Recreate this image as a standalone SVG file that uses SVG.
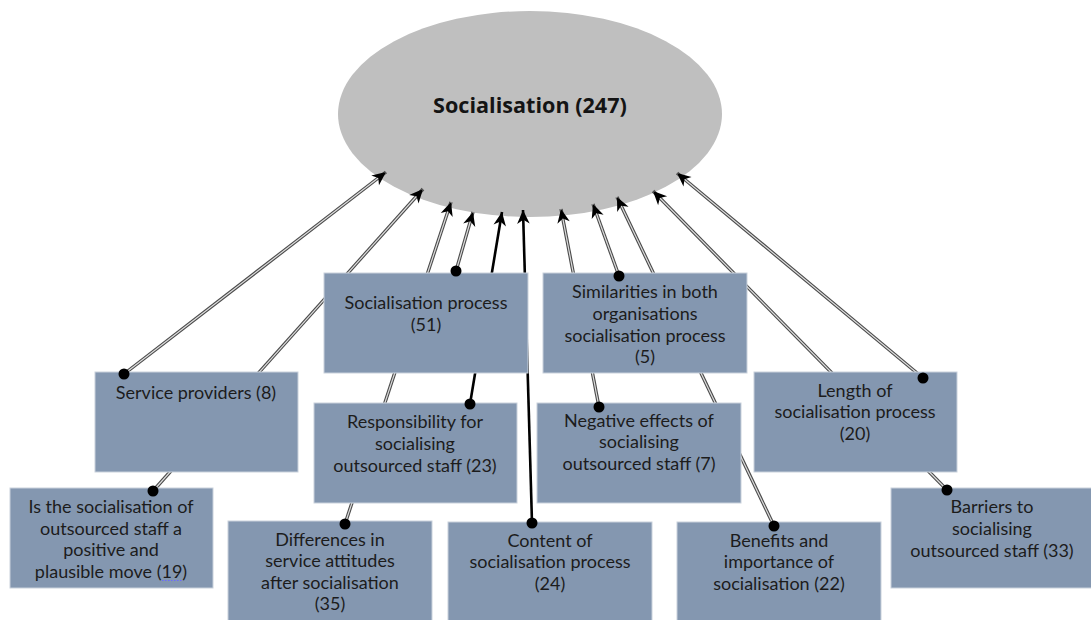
<svg xmlns="http://www.w3.org/2000/svg" xmlns:xlink="http://www.w3.org/1999/xlink" width="1091" height="620" viewBox="0 0 1091 620">
  <style>
    .box { fill: #8497b0; stroke: #c9d1dc; stroke-width: 1; }
    .label { font-family: Lato, "Liberation Sans", sans-serif; font-size: 18px; fill: #1c1c1c; text-anchor: middle; }
    .title { font-family: "Open Sans", "Liberation Sans", sans-serif; font-size: 21.6px; font-weight: bold; fill: #141414; text-anchor: middle; }
    .dbl-outer { fill: none; stroke: #4a4a4a; stroke-width: 3.4; }
    .dbl-inner { fill: none; stroke: #dedede; stroke-width: 1.2; }
    .solid { fill: none; stroke: #000; stroke-width: 2.6; }
    .heads { fill: none; stroke: none; marker-end: url(#arrow); }
    .dot { fill: #000; }
  </style>
  <defs>
    <marker id="arrow" markerUnits="userSpaceOnUse" markerWidth="16" markerHeight="16" viewBox="-13 -7 14 14" refX="0" refY="0" orient="auto">
      <path d="M0,0 L-12,-5.5 L-8.5,0 L-12,5.5 Z" fill="#000"/>
    </marker>
    <!-- connector paths: from source node to the ellipse rim -->
    <path id="c-serv" d="M124,374 L386,172"/>
    <path id="c-is" d="M153,491 L423,189"/>
    <path id="c-diff" d="M345,524 L451,202"/>
    <path id="c-proc" d="M456,271 L473,212"/>
    <path id="c-resp" d="M470,404 L502,212"/>
    <path id="c-cont" d="M532,523 L523,210"/>
    <path id="c-neg" d="M599,407 L561,209"/>
    <path id="c-sim" d="M619,276 L593,204"/>
    <path id="c-ben" d="M774,526 L617,197"/>
    <path id="c-bar" d="M947,490 L653,191"/>
    <path id="c-len" d="M923,378 L677,173"/>
  </defs>

  <rect width="1091" height="620" fill="#ffffff"/>

  <!-- central theme -->
  <g id="socialisation">
    <ellipse cx="530" cy="114" rx="192" ry="103" fill="#bfbfbf"/>
    <text class="title" x="530" y="113">Socialisation (247)</text>
  </g>

  <!-- connectors: double lines, solid lines, then arrowheads -->
  <g id="connectors">
    <g class="dbl-outer">
      <use xlink:href="#c-serv"/><use xlink:href="#c-is"/><use xlink:href="#c-diff"/>
      <use xlink:href="#c-proc"/><use xlink:href="#c-neg"/><use xlink:href="#c-sim"/>
      <use xlink:href="#c-ben"/><use xlink:href="#c-bar"/><use xlink:href="#c-len"/>
    </g>
    <g class="dbl-inner">
      <use xlink:href="#c-serv"/><use xlink:href="#c-is"/><use xlink:href="#c-diff"/>
      <use xlink:href="#c-proc"/><use xlink:href="#c-neg"/><use xlink:href="#c-sim"/>
      <use xlink:href="#c-ben"/><use xlink:href="#c-bar"/><use xlink:href="#c-len"/>
    </g>
    <g class="solid">
      <use xlink:href="#c-resp"/><use xlink:href="#c-cont"/>
    </g>
    <g class="heads">
      <use xlink:href="#c-serv"/><use xlink:href="#c-is"/><use xlink:href="#c-diff"/>
      <use xlink:href="#c-proc"/><use xlink:href="#c-resp"/><use xlink:href="#c-cont"/>
      <use xlink:href="#c-neg"/><use xlink:href="#c-sim"/><use xlink:href="#c-ben"/>
      <use xlink:href="#c-bar"/><use xlink:href="#c-len"/>
    </g>
  </g>

  <!-- category nodes -->
  <g id="socialisation-process">
    <rect class="box" x="324" y="273" width="204" height="100"/>
    <text class="label" x="426"><tspan x="426" y="309">Socialisation process</tspan><tspan x="426" y="331">(51)</tspan></text>
  </g>
  <g id="similarities">
    <rect class="box" x="543" y="273" width="204" height="100"/>
    <text class="label"><tspan x="645" y="298">Similarities in both</tspan><tspan x="645" y="320">organisations</tspan><tspan x="645" y="342">socialisation process</tspan><tspan x="645" y="363">(5)</tspan></text>
  </g>
  <g id="service-providers">
    <rect class="box" x="95" y="372" width="203" height="100"/>
    <text class="label"><tspan x="196" y="399">Service providers (8)</tspan></text>
  </g>
  <g id="length">
    <rect class="box" x="754" y="372" width="203" height="100"/>
    <text class="label"><tspan x="855" y="397">Length of</tspan><tspan x="855" y="418">socialisation process</tspan><tspan x="855" y="440">(20)</tspan></text>
  </g>
  <g id="responsibility">
    <rect class="box" x="314" y="403" width="203" height="100"/>
    <text class="label"><tspan x="415" y="428">Responsibility for</tspan><tspan x="415" y="450">socialising</tspan><tspan x="415" y="472">outsourced staff (23)</tspan></text>
  </g>
  <g id="negative-effects">
    <rect class="box" x="537" y="403" width="204" height="100"/>
    <text class="label"><tspan x="639" y="427">Negative effects of</tspan><tspan x="639" y="448">socialising</tspan><tspan x="639" y="470">outsourced staff (7)</tspan></text>
  </g>
  <g id="positive-move">
    <rect class="box" x="10" y="488" width="203" height="100"/>
    <text class="label"><tspan x="111" y="513">Is the socialisation of</tspan><tspan x="111" y="535">outsourced staff a</tspan><tspan x="111" y="556">positive and</tspan><tspan x="111" y="578">plausible move (19)</tspan></text>
    <line x1="162" y1="580.5" x2="183" y2="580.5" stroke="#6a6aff" stroke-width="1" stroke-dasharray="1.5 1.5"/>
  </g>
  <g id="barriers">
    <rect class="box" x="891" y="488" width="203" height="100"/>
    <text class="label"><tspan x="992" y="513">Barriers to</tspan><tspan x="992" y="535">socialising</tspan><tspan x="992" y="557">outsourced staff (33)</tspan></text>
  </g>
  <g id="differences">
    <rect class="box" x="228" y="521" width="204" height="102"/>
    <text class="label"><tspan x="330" y="546">Differences in</tspan><tspan x="330" y="567">service attitudes</tspan><tspan x="330" y="589">after socialisation</tspan><tspan x="330" y="610">(35)</tspan></text>
  </g>
  <g id="content">
    <rect class="box" x="448" y="522" width="204" height="101"/>
    <text class="label"><tspan x="550" y="547">Content of</tspan><tspan x="550" y="568">socialisation process</tspan><tspan x="550" y="590">(24)</tspan></text>
  </g>
  <g id="benefits">
    <rect class="box" x="677" y="522" width="204" height="101"/>
    <text class="label"><tspan x="779" y="547">Benefits and</tspan><tspan x="779" y="568">importance of</tspan><tspan x="779" y="590">socialisation (22)</tspan></text>
  </g>

  <!-- connector start points, drawn over the node edges -->
  <g id="connector-ends" class="dot">
    <circle cx="124" cy="374" r="5.5"/>
    <circle cx="153" cy="491" r="5.5"/>
    <circle cx="345" cy="524" r="5.5"/>
    <circle cx="456" cy="271" r="5.5"/>
    <circle cx="470" cy="404" r="5.5"/>
    <circle cx="532" cy="523" r="5.5"/>
    <circle cx="599" cy="407" r="5.5"/>
    <circle cx="619" cy="276" r="5.5"/>
    <circle cx="774" cy="526" r="5.5"/>
    <circle cx="947" cy="490" r="5.5"/>
    <circle cx="923" cy="378" r="5.5"/>
  </g>
</svg>
